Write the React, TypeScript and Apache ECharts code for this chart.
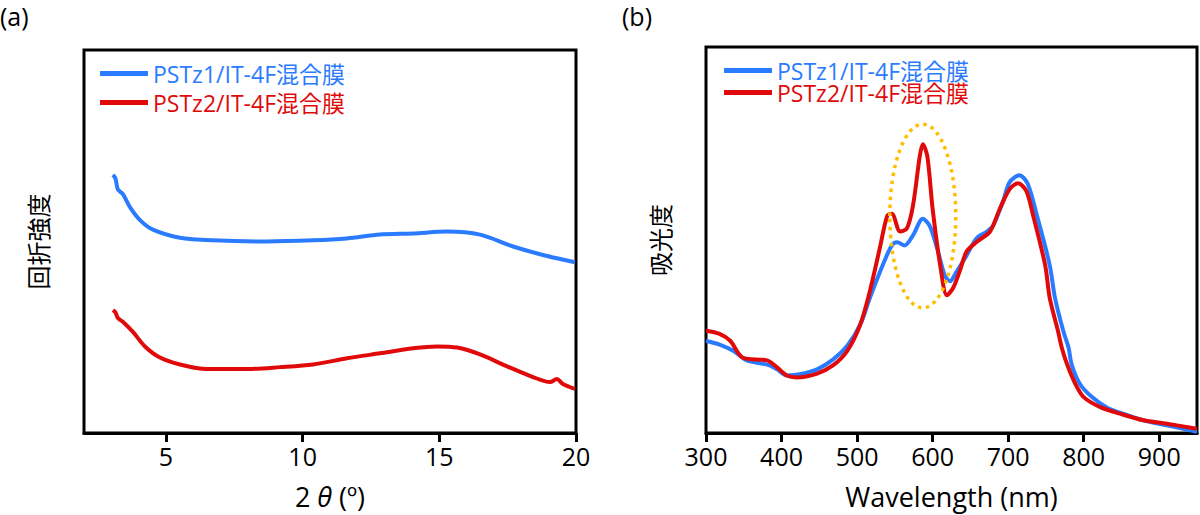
import React, { useEffect, useRef } from "react";
import * as echarts from "echarts";

const FONT = "'Open Sans', 'Noto Sans CJK JP', sans-serif";
const SERIES_NAMES = ["PSTz1/IT-4F混合膜", "PSTz2/IT-4F混合膜"];
const COLORS = ["#2A7BFF", "#E00A0A"];

// (a) XRD profiles: 2θ (deg) and relative intensity (arbitrary units)
const xrdThetaBlue = [3.06, 3.15, 3.24, 3.43, 3.68, 4.05, 4.52, 5.51, 6.72, 8.7, 10.38, 11.62, 12.83, 14.04, 15.28, 16.49, 17.7, 18.94, 19.96];
const xrdBlue = [67.4, 66.5, 63.6, 62.3, 59.0, 55.6, 53.1, 51.0, 50.3, 50.0, 50.3, 50.8, 51.8, 52.1, 52.6, 51.8, 48.7, 46.2, 44.6];
const xrdThetaRed = [3.06, 3.15, 3.24, 3.43, 3.79, 4.23, 4.78, 5.51, 6.5, 7.96, 9.17, 10.38, 11.62, 12.83, 14.04, 14.91, 15.65, 16.49, 17.48, 18.43, 19.05, 19.3, 19.52, 19.96];
const xrdRed = [32.1, 31.5, 30.0, 29.0, 26.4, 22.6, 19.7, 17.9, 16.7, 16.7, 17.2, 17.9, 19.5, 20.8, 22.1, 22.6, 22.3, 20.5, 17.4, 14.6, 13.3, 14.1, 12.8, 11.5];
const xrdTicks = [5, 10, 15, 20];

// (b) absorption spectra: wavelength (nm) and absorbance (arbitrary units)
const wlBlue = [300, 318, 336, 354, 381, 394, 407, 424, 447, 468, 487, 504, 517, 534, 546, 553, 563, 574, 587, 596, 606, 616, 623, 632, 645, 658, 672, 680, 693, 702, 715, 726, 738, 755, 762, 773, 780, 784, 795, 811, 830, 852, 879, 910, 950];
const absBlue = [23.9, 22.9, 21.3, 18.8, 17.7, 16.5, 14.9, 15.2, 16.5, 19.0, 22.6, 28.0, 35.0, 43.5, 48.6, 49.4, 48.6, 51.2, 55.5, 53.7, 47.8, 40.9, 39.3, 41.9, 46.0, 50.4, 52.2, 53.7, 59.9, 65.0, 66.8, 64.5, 56.4, 43.5, 35.0, 26.4, 22.1, 17.8, 12.7, 9.3, 6.7, 5.0, 3.3, 2.0, 0.3];
const wlRed = [300, 318, 332, 349, 381, 394, 407, 420, 447, 468, 487, 504, 517, 530, 540, 546, 557, 566, 574, 583, 587, 593, 600, 610, 619, 627, 636, 645, 659, 676, 689, 702, 713, 724, 733, 749, 755, 766, 771, 778, 789, 800, 822, 848, 879, 910, 950];
const absRed = [26.5, 25.7, 23.9, 19.5, 18.8, 17.0, 14.9, 14.4, 15.4, 17.5, 21.3, 28.0, 36.8, 47.8, 56.3, 56.8, 52.2, 53.0, 58.9, 71.7, 74.8, 71.7, 58.1, 43.5, 35.7, 37.5, 42.0, 47.0, 49.6, 52.2, 58.1, 63.2, 64.7, 62.7, 56.4, 43.5, 35.0, 26.4, 22.1, 17.8, 12.7, 9.3, 6.7, 5.0, 3.3, 2.4, 1.1];
const wlTicks = [300, 400, 500, 600, 700, 800, 900];

// highlighted region (dotted ellipse) in data units: centre and radii
const ellipseCenter = [587, 56.2];
const ellipseRadius = [43.7, 23.8];

const pairs = (xs: number[], ys: number[]) => xs.map((x, i) => [x, ys[i]]);

export default function App() {
  const ref = useRef<HTMLDivElement>(null);
  useEffect(() => {
    if (!ref.current) return;
    const chart = echarts.init(ref.current, undefined, { renderer: "svg" });
    const black = "#000";
    const baseText = { fontFamily: FONT, color: black };
    const mkX = (idx: number, min: number, max: number, ticks: number[], name: any, rich?: any) => ({
      type: "value",
      gridIndex: idx,
      min,
      max,
      name,
      nameLocation: "middle",
      nameGap: 50,
      nameTextStyle: { ...baseText, fontSize: 27, rich },
      axisLine: { show: true, lineStyle: { color: black, width: 3 } },
      axisTick: { show: true, length: 9, inside: false, lineStyle: { color: black, width: 3 }, customValues: ticks },
      axisLabel: { ...baseText, fontSize: 25, margin: 10, customValues: ticks },
      splitLine: { show: false },
    });
    const mkY = (idx: number, name: string) => ({
      type: "value",
      gridIndex: idx,
      min: 0,
      max: 100,
      name,
      nameLocation: "middle",
      nameRotate: 90,
      nameGap: 34,
      nameTextStyle: { ...baseText, fontSize: 24 },
      axisLine: { show: false },
      axisTick: { show: false },
      axisLabel: { show: false },
      splitLine: { show: false },
    });
    const mkLegend = (name: string, color: string, left: number, top: number, lineHeight: number) => ({
      left,
      top,
      padding: 0,
      orient: "vertical",
      icon: "rect",
      itemWidth: 48,
      itemHeight: 5,
      selectedMode: false,
      textStyle: { ...baseText, fontSize: 23, color, lineHeight },
      data: [{ name, textStyle: { color, lineHeight } }],
    });
    const line = (name: string, color: string, idx: number, data: number[][]) => ({
      type: "line",
      name,
      xAxisIndex: idx,
      yAxisIndex: idx,
      data,
      showSymbol: false,
      smooth: 0.3,
      lineStyle: { color, width: 4 },
      itemStyle: { color },
    });
    chart.setOption({
      animation: false,
      backgroundColor: "#fff",
      title: [
        { text: "(a)", left: 0, top: 3, padding: 0, textStyle: { ...baseText, fontSize: 25, fontWeight: "normal" } },
        { text: "(b)", left: 622, top: 3, padding: 0, textStyle: { ...baseText, fontSize: 25, fontWeight: "normal" } },
      ],
      grid: [
        { left: 84, top: 50, width: 492, height: 390, show: true, borderColor: black, borderWidth: 3, backgroundColor: "transparent" },
        { left: 706, top: 47, width: 491, height: 389, show: true, borderColor: black, borderWidth: 3, backgroundColor: "transparent" },
      ],
      xAxis: [
        mkX(0, 2, 20, xrdTicks, "{a|2 }{i|θ}{a| (º)}", {
          a: { ...baseText, fontSize: 27 },
          i: { ...baseText, fontSize: 27, fontStyle: "italic" },
        }),
        mkX(1, 300, 950, wlTicks, "Wavelength (nm)"),
      ],
      yAxis: [mkY(0, "回折強度"), mkY(1, "吸光度")],
      legend: [
        mkLegend(SERIES_NAMES[0], COLORS[0], 100, 62, 23),
        mkLegend(SERIES_NAMES[1], COLORS[1], 100, 91, 23),
        mkLegend(SERIES_NAMES[0], COLORS[0], 724, 59, 21),
        mkLegend(SERIES_NAMES[1], COLORS[1], 724, 81, 21),
      ],
      series: [
        line(SERIES_NAMES[0], COLORS[0], 0, pairs(xrdThetaBlue, xrdBlue)),
        line(SERIES_NAMES[1], COLORS[1], 0, pairs(xrdThetaRed, xrdRed)),
        line(SERIES_NAMES[0], COLORS[0], 1, pairs(wlBlue, absBlue)),
        line(SERIES_NAMES[1], COLORS[1], 1, pairs(wlRed, absRed)),
      ],
    });
    const c = chart.convertToPixel({ xAxisIndex: 1, yAxisIndex: 1 }, ellipseCenter) as number[];
    const e = chart.convertToPixel({ xAxisIndex: 1, yAxisIndex: 1 }, [
      ellipseCenter[0] + ellipseRadius[0],
      ellipseCenter[1] + ellipseRadius[1],
    ]) as number[];
    chart.setOption({
      graphic: [
        {
          type: "ellipse",
          z: 100,
          shape: { cx: c[0], cy: c[1], rx: Math.abs(e[0] - c[0]), ry: Math.abs(c[1] - e[1]) },
          style: { fill: "none", stroke: "#FFBE00", lineWidth: 3.5, lineDash: [3.5, 4.5] },
        },
      ],
    });
    return () => chart.dispose();
  }, []);
  return <div ref={ref} style={{ position: "absolute", left: 0, top: 0, width: 1200, height: 515 }} />;
}
